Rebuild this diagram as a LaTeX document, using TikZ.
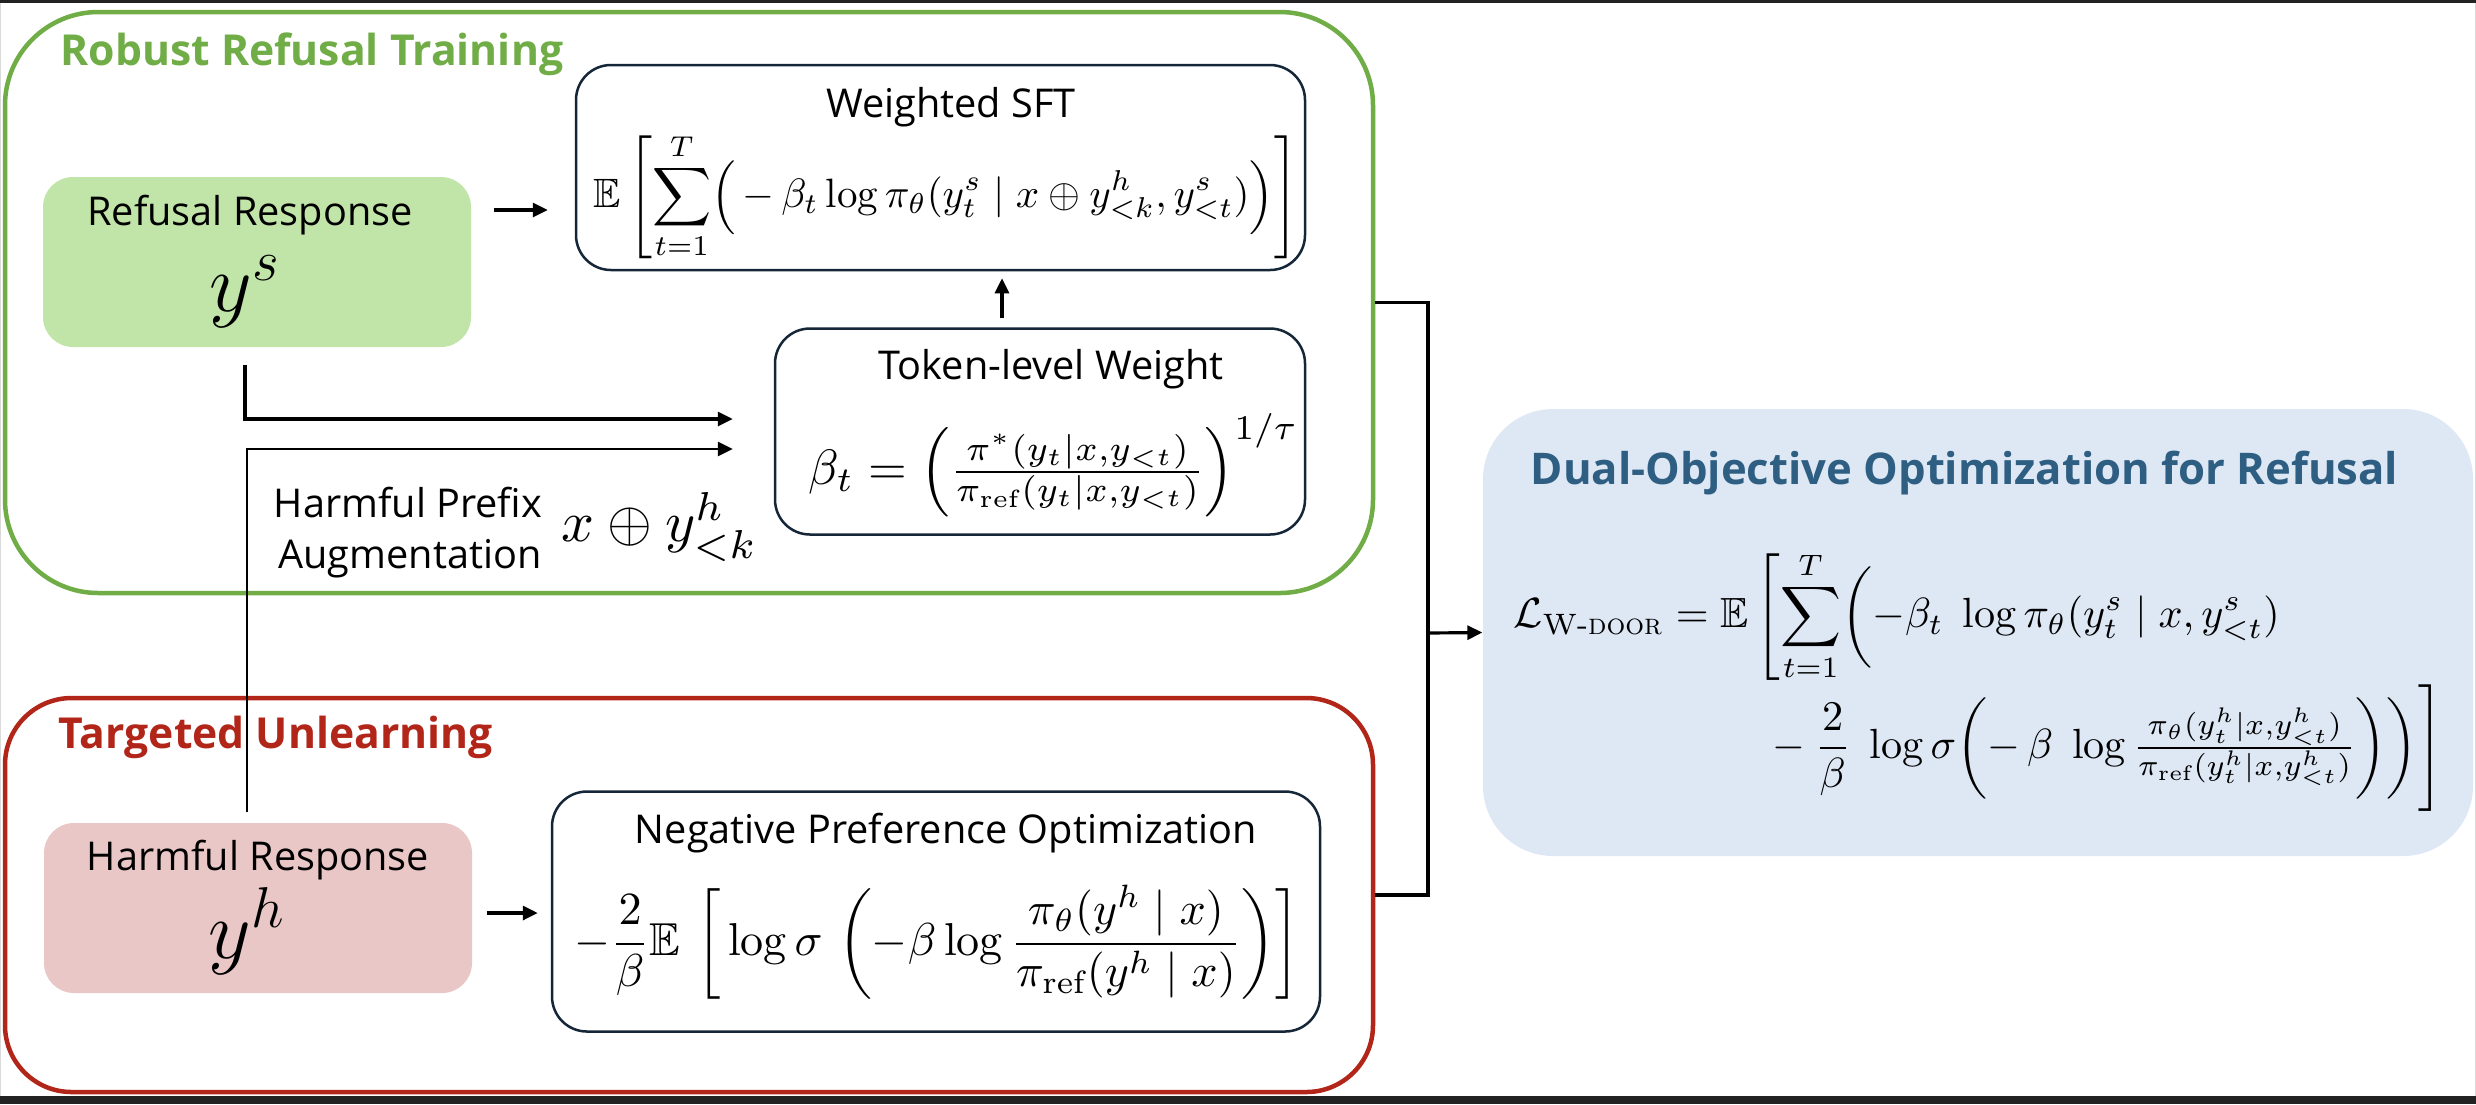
\documentclass[tikz,border=0pt]{standalone}
\usepackage{amsmath,amssymb}
\usepackage{graphicx}
\usepackage{fontspec}
\newfontfamily\labfont{Open Sans}
\usetikzlibrary{arrows.meta}
\definecolor{rgreen}{RGB}{112,173,71}
\definecolor{rfill}{RGB}{193,229,169}
\definecolor{tred}{RGB}{178,38,26}
\definecolor{hfill}{RGB}{233,199,198}
\definecolor{bfill}{RGB}{222,232,245}
\definecolor{btitle}{RGB}{46,94,130}
\definecolor{navy}{RGB}{20,38,56}
\definecolor{scr}{RGB}{34,34,34}
\begin{document}
\begin{tikzpicture}[x=0.3pt,y=-0.3pt,
  lab/.style={font=\labfont\fontsize{11.9}{14}\selectfont, inner sep=0pt},
  ttl/.style={font=\labfont\bfseries\fontsize{12.8}{16}\selectfont, inner sep=0pt, anchor=base west},
  conn/.style={line width=0.95pt, black},
  arr/.style={conn, -{Triangle[length=4.5pt,width=4.2pt]}},
  inbox/.style={draw=navy, line width=0.75pt, rounded corners=10.5pt, inner sep=0pt},
  fml/.style={inner sep=0pt},
  ]
\useasboundingbox (0,0) rectangle (2476,1104);
\fill[white] (0,0) rectangle (2476,1104);
\fill[scr] (0,0) rectangle (2476,3);
\fill[scr] (0,1096) rectangle (2476,1104);
\fill[black!15] (0,3) rectangle (1.5,1096);
\fill[black!15] (2474.5,3) rectangle (2476,1096);

% group boxes
\node[draw=rgreen, line width=1.35pt, rounded corners=28pt, minimum width=410.4pt, minimum height=174.3pt, inner sep=0pt] (green) at (689,302.5) {};
\node[draw=tred, line width=1.35pt, rounded corners=20pt, minimum width=410.4pt, minimum height=118.2pt, inner sep=0pt] (red) at (689,895) {};
\node[fill=bfill, rounded corners=21pt, minimum width=297pt, minimum height=134.1pt, inner sep=0pt] (blue) at (1978,632.5) {};

% titles
\node[ttl, text=rgreen] (tgreen) at (60,65) {Robust Refusal Training};
\node[ttl, text=tred] (tred) at (58,748) {Targeted Unlearning};
\node[ttl, text=btitle, font=\labfont\bfseries\fontsize{13.1}{16}\selectfont] (tblue) at (1530,484) {Dual-Objective Optimization for Refusal};

% input boxes
\node[fill=rfill, rounded corners=9pt, minimum width=128.4pt, minimum height=51pt, inner sep=0pt] (refusal) at (257,262) {};
\node[fill=hfill, rounded corners=9pt, minimum width=128.4pt, minimum height=51pt, inner sep=0pt] (harmful) at (258,908) {};
\node[lab, anchor=base] (lrefusal) at (250,225) {Refusal Response};
\node[lab, anchor=base] (lharmful) at (258,870) {Harmful Response};
\node[fml, anchor=base] (ys) at (245,311) {\fontsize{26}{30}\selectfont$y^{s}$};
\node[fml, anchor=base] (yh) at (247,958) {\fontsize{24}{28}\selectfont$y^{h}$};

% inner boxes
\node[inbox, minimum width=218.7pt, minimum height=61.5pt] (sft) at (940.5,167.5) {};
\node[inbox, minimum width=159pt, minimum height=61.8pt] (token) at (1040,431.5) {};
\node[inbox, minimum width=230.4pt, minimum height=72pt] (npo) at (936,911.5) {};

\node[lab, anchor=base] (lsft) at (951,117) {Weighted SFT};
\node[lab, anchor=base] (ltoken) at (1051,379) {Token-level Weight};
\node[lab, anchor=base] (lnpo) at (946,843) {Negative Preference Optimization};
\node[lab, anchor=base] (lpa) at (408,517) {Harmful Prefix};
\node[lab, anchor=base] (lpb) at (410,568) {Augmentation};

% formulas
\node[fml] (fsft) at (946,196) {\resizebox{211.2pt}{!}{$\displaystyle \mathbb{E}\left[\sum_{t=1}^{T}\Bigl(\,-\,\beta_t\log\pi_\theta(y_t^s\mid x\oplus y^h_{<k}, y^s_{<t})\Bigr)\right]$}};
\node[fml, anchor=west] (ftok) at (808,465) {\resizebox{147pt}{!}{$\beta_t=\left(\frac{\pi^*(y_t|x,y_{<t})}{\pi_{\mathrm{ref}}(y_t|x,y_{<t})}\right)^{1/\tau}$}};
\node[fml] (fnpo) at (937,942) {\resizebox{217.5pt}{!}{$\displaystyle -\frac{2}{\beta}\mathbb{E}\,\left[\,\log\sigma\,\left(-\beta\log\frac{\pi_\theta(y^h\mid x)}{\pi_{\mathrm{ref}}(y^h\mid x)}\right)\right]$}};
\node[fml, anchor=west] (fpre) at (561,527) {\resizebox{58.8pt}{!}{$x\oplus y^h_{<k}$}};
\node[fml, anchor=north west] (fdual) at (1513,550) {\resizebox{278.7pt}{!}{$\begin{array}{@{}l@{}}
\displaystyle \mathcal{L}_{\text{W-\textsc{door}}} = \mathbb{E}\left[\sum_{t=1}^{T}\biggl(-\beta_t\;\log\pi_\theta(y^s_t\mid x, y^s_{<t})\right.\\[2pt]
\displaystyle \hphantom{\mathcal{L}_{\text{W-\textsc{door}}} = {}}\;\;\,\left.\vphantom{\sum_{t=1}^{T}}-\frac{2}{\beta}\;\log\sigma\biggl(-\,\beta\;\log\tfrac{\pi_\theta(y^h_t|x,y^h_{<t})}{\pi_{\mathrm{ref}}(y^h_t|x,y^h_{<t})}\biggr)\biggr)\right]
\end{array}$}};

% connectors
\coordinate (a1) at (0,210);
\coordinate (a2) at (0,913);
\coordinate (ux) at (1002,0);
\coordinate (lx) at (245,0);
\coordinate (lx2) at (247,0);
\coordinate (l1) at (0,419);
\coordinate (l2) at (0,449);
\coordinate (j) at (1428,633);

\draw[arr, shorten <=6.6pt, shorten >=8.1pt] (refusal.east |- a1) -- (sft.west |- a1);
\draw[arr, shorten <=4.2pt, shorten >=3.9pt] (harmful.east |- a2) -- (npo.west |- a2);
\draw[arr, shorten <=2.7pt, shorten >=2.1pt] (token.north -| ux) -- (sft.south -| ux);
\draw[arr, shorten <=5.1pt, shorten >=12.3pt] (refusal.south -| lx) |- (token.west |- l1);
\draw[arr, line width=0.8pt, shorten <=3pt, shorten >=12.3pt] (harmful.north -| lx2) |- (token.west |- l2);
\draw[conn] (green.east) -| (j) |- (red.east);
\draw[arr] (j) -- (blue.west);
\end{tikzpicture}
\end{document}
